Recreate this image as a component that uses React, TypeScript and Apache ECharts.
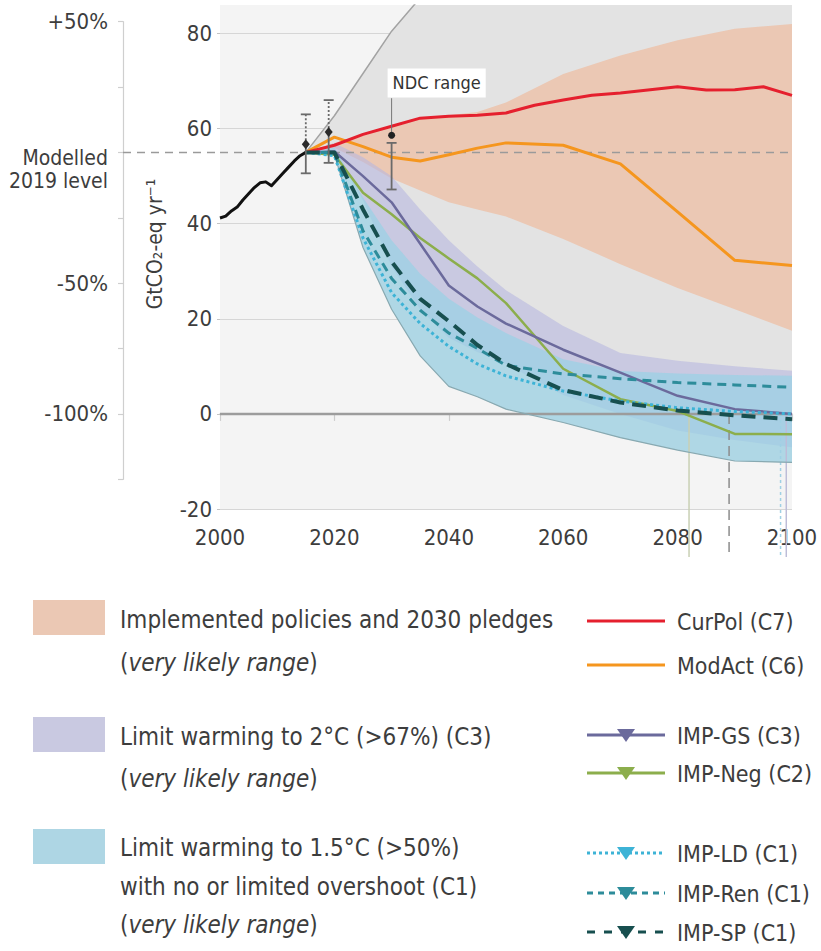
import React, { useEffect, useRef } from 'react';
import * as echarts from 'echarts';

const FONT = "'DejaVu Sans Condensed', 'DejaVu Sans', sans-serif";
const TEXT = '#3d3d3d';

// ---- axes ----
const X_MIN = 2000;
const X_MAX = 2100;
const X_INTERVAL = 20;
const Y_MIN = -20;
const Y_MAX = 86;
const Y_INTERVAL = 20;
const BASELINE_2019 = 55;
const PCT_MIN = -125;
const PCT_MAX = 50;
const PCT_INTERVAL = 25;
const pctTickLabels: Record<string, string> = { '50': '+50%', '-50': '-50%', '-100': '-100%' };

// ---- historical emissions ----
const histYears = [2000, 2001, 2002, 2003, 2004, 2005, 2006, 2007, 2008, 2009, 2010, 2011, 2012, 2013, 2014, 2015];
const histValues = [41.2, 41.6, 42.7, 43.5, 45.0, 46.3, 47.6, 48.6, 48.8, 48.0, 49.3, 50.6, 51.9, 53.2, 54.3, 55.0];

// ---- scenario ranges ----
const scenarioYears = [2015, 2020, 2025, 2030, 2035, 2040, 2045, 2050, 2060, 2070, 2080, 2090, 2100];
const allScenariosUpper = [55, 62.7, 71.6, 80.5, 87.5, 92, 95, 97, 100, 102, 104, 105, 106];
const c7Upper = [55, 57, 58.8, 60.5, 62, 62.8, 63.5, 65.5, 71.5, 75.4, 78.6, 81, 82];
const c7Lower = [55, 56, 53, 49.5, 47, 44.5, 43, 41.5, 36.8, 31.5, 26.5, 22, 17.5];
const c3Upper = [55, 57, 54, 50, 43, 36.5, 31, 26, 18.5, 12.8, 11.2, 10, 9.1];
const c3Lower = [55, 55, 45, 31, 22, 16, 13, 10.5, 4, 0, -3.5, -5.5, -7];
const c1Upper = [55, 56, 45.5, 36.5, 29.5, 24.2, 20.3, 17, 11.5, 9, 8.5, 8.2, 8];
const c1Lower = [55, 54.5, 35, 22, 12.2, 5.8, 3.6, 1, -1.8, -5, -7.6, -9.9, -10.2];

// ---- pathways ----
const curPolYears = [2015, 2020, 2025, 2030, 2035, 2040, 2045, 2050, 2055, 2060, 2065, 2070, 2080, 2085, 2090, 2095, 2100];
const curPolValues = [55, 56.5, 58.8, 60.5, 62.2, 62.6, 62.8, 63.3, 64.9, 66, 67, 67.5, 68.8, 68.1, 68.2, 68.8, 67];
const modActValues = [55, 58.2, 56.2, 54, 53.2, 54.5, 55.9, 57, 56.5, 52.6, 42.5, 32.3, 31.2];
const impGsValues = [55, 55.2, 50, 44.5, 35.8, 27, 22.6, 19, 13.5, 8.7, 3.8, 1, 0];
const impNegValues = [55, 54.5, 46.5, 42, 37, 32.7, 28.5, 23.3, 9.5, 3.1, 0.6, -4.2, -4.3];
const impLdValues = [55, 54.3, 37, 25.5, 19, 14.2, 10.5, 8, 4.8, 2.7, 1.3, 0.5, 0];
const impRenValues = [55, 55, 38.5, 28.5, 21.8, 17, 13.8, 10.2, 8.4, 7.4, 6.6, 6.1, 5.6];
const impSpValues = [55, 55, 43, 32, 24.2, 19.5, 14.5, 10.5, 5, 2.4, 0.7, -0.3, -1.1];

// ---- estimates with uncertainty ----
const estYears = [2015, 2019];
const estCentral = [56.7, 59.3];
const estLow = [50.6, 52.8];
const estHigh = [63, 66];

const ndcYear = 2030;
const ndcPoint = 58.6;
const ndcLow = 47.2;
const ndcHigh = 57.0;
const ndcStemTop = 66.4;
const ndcLabelValue = 69.6;
const ndcLabel = 'NDC range';

// ---- net-zero years ----
const netZeroYears = [2082, 2089, 2098, 2099];

// ---- legend texts ----
const VL = '({i|very likely range})';
const rangeLegend = [
  { color: '#ebc8b4', lines: ['Implemented policies and 2030 pledges', VL] },
  { color: '#c9c9e1', lines: ['Limit warming to 2°C (>67%) (C3)', VL] },
  { color: '#aed6e4', lines: ['Limit warming to 1.5°C (>50%)', 'with no or limited overshoot (C1)', VL] },
];
const pathwayLegend = [
  { label: 'CurPol (C7)', color: '#e5202e', dash: null, marker: false },
  { label: 'ModAct (C6)', color: '#f5961e', dash: null, marker: false },
  { label: 'IMP-GS (C3)', color: '#6b6a9c', dash: null, marker: true },
  { label: 'IMP-Neg (C2)', color: '#8cae4c', dash: null, marker: true },
  { label: 'IMP-LD (C1)', color: '#3db3d6', dash: [3, 3], marker: true },
  { label: 'IMP-Ren (C1)', color: '#2d8c9a', dash: [6, 5], marker: true },
  { label: 'IMP-SP (C1)', color: '#174f4f', dash: [8, 9], marker: true },
];

const pairs = (xs: number[], ys: number[]) => xs.map((x, i) => [x, ys[i]]);

function band(name: string, lower: number[], upper: number[], fill: string) {
  return {
    type: 'custom', name, silent: true, z: 2, clip: true,
    data: [[scenarioYears[0], lower[0]]],
    renderItem: (params: any, api: any) => {
      const top = scenarioYears.map((x, i) => api.coord([x, upper[i]]));
      const bottom = scenarioYears.map((x, i) => api.coord([x, lower[i]])).reverse();
      return { type: 'polygon', shape: { points: top.concat(bottom) }, style: { fill } };
    },
  };
}

function line(name: string, xs: number[], ys: number[], color: string, width: number, type: any = 'solid', z = 3) {
  return {
    type: 'line', name, data: pairs(xs, ys), symbol: 'none', silent: true, z,
    lineStyle: { color, width, type, cap: 'butt', join: 'round' },
  };
}

const netZeroStyles = [
  { stroke: '#c9d0b4', lineWidth: 1.5 },
  { stroke: '#8c8c8c', lineWidth: 1.5, lineDash: [10, 6] },
  { stroke: '#9fd0e4', lineWidth: 1.5, lineDash: [3, 3] },
  { stroke: '#bdbdd8', lineWidth: 1.5 },
];

function buildOption() {
  const pxPerUnit = (509 - 5) / (Y_MAX - Y_MIN);
  const yPx = (v: number) => 5 + (Y_MAX - v) * pxPerUnit;
  const pctTop = yPx(BASELINE_2019 * (1 + PCT_MAX / 100));
  const pctBottom = yPx(BASELINE_2019 * (1 + PCT_MIN / 100));

  return {
    animation: false,
    backgroundColor: '#ffffff',
    textStyle: { fontFamily: FONT },
    grid: [
      { left: 220, right: 29, top: 5, bottom: 951 - 509, show: true, backgroundColor: '#f4f4f4', borderWidth: 0 },
      { left: 123, width: 1, top: pctTop, height: pctBottom - pctTop, show: false },
    ],
    xAxis: [
      {
        type: 'value', gridIndex: 0, min: X_MIN, max: X_MAX, interval: X_INTERVAL,
        axisLine: { show: true, lineStyle: { color: '#d2d2d2', width: 1.5 } },
        axisTick: { show: true, length: 7, lineStyle: { color: '#cccccc', width: 1.2 } },
        axisLabel: { fontSize: 22, color: TEXT, margin: 17, fontFamily: FONT, formatter: (v: number) => String(v) },
        splitLine: { show: false },
      },
      { type: 'value', gridIndex: 1, min: 0, max: 1, show: false },
    ],
    yAxis: [
      {
        type: 'value', gridIndex: 0, min: Y_MIN, max: Y_MAX, interval: Y_INTERVAL,
        axisLine: { show: false },
        axisTick: { show: true, length: 3, lineStyle: { color: '#c4c4c4' } },
        axisLabel: {
          fontSize: 22, color: TEXT, margin: 8, fontFamily: FONT, showMaxLabel: false,
          formatter: (v: number) => (v % Y_INTERVAL === 0 ? String(v) : ''),
        },
        splitLine: { show: true, showMaxLine: false, lineStyle: { color: '#d6d6d6', width: 1 } },
      },
      {
        type: 'value', gridIndex: 1, min: PCT_MIN, max: PCT_MAX, interval: PCT_INTERVAL, position: 'left',
        axisLine: { show: true, lineStyle: { color: '#cfcfcf', width: 1.2 } },
        axisTick: { show: true, length: 5, lineStyle: { color: '#cfcfcf', width: 1.2 } },
        axisLabel: {
          fontSize: 22, color: TEXT, margin: 15, fontFamily: FONT,
          formatter: (v: number) => pctTickLabels[String(v)] || '',
        },
        splitLine: { show: false },
      },
    ],
    series: [
      band('all scenarios', c1Lower, allScenariosUpper, '#e3e3e3'),
      line('all-upper', scenarioYears, allScenariosUpper, '#a3a3a3', 1.5, 'solid', 2),
      line('zero', [X_MIN, X_MAX], [0, 0], '#9c9c9c', 2.5, 'solid', 2),
      band('C7 range', c7Lower, c7Upper, '#ebc8b4'),
      band('C3 range', c3Lower, c3Upper, 'rgba(183,183,224,0.6)'),
      band('C1 range', c1Lower, c1Upper, 'rgba(152,209,229,0.7)'),
      line('c1-lower-edge', scenarioYears, c1Lower, '#88a9b1', 1.2, 'solid', 2),
      line('2019 level', [X_MIN, X_MAX], [BASELINE_2019, BASELINE_2019], '#9a9a9a', 1.5, [8, 6], 2),
      {
        type: 'custom', name: 'net-zero', z: 2, silent: true, clip: false,
        data: netZeroYears.map((y) => [y, 0]),
        renderItem: (params: any, api: any) => {
          const x = api.value(0);
          const top = api.coord([x, api.value(1)]);
          const bottom = api.coord([x, Y_MIN]);
          return {
            type: 'line',
            shape: { x1: top[0], y1: top[1], x2: top[0], y2: bottom[1] + 48 },
            style: netZeroStyles[params.dataIndex],
          };
        },
      },
      line('historical', histYears, histValues, '#111111', 3),
      line('ModAct (C6)', scenarioYears, modActValues, '#f5961e', 3),
      line('CurPol (C7)', curPolYears, curPolValues, '#e5202e', 3),
      line('IMP-Neg (C2)', scenarioYears, impNegValues, '#8cae4c', 2.5),
      line('IMP-GS (C3)', scenarioYears, impGsValues, '#6b6a9c', 2.5),
      line('IMP-LD (C1)', scenarioYears, impLdValues, '#3db3d6', 3, [3, 3]),
      line('IMP-Ren (C1)', scenarioYears, impRenValues, '#2d8c9a', 3, [9, 6]),
      line('IMP-SP (C1)', scenarioYears, impSpValues, '#174f4f', 4, [14, 8]),
      {
        type: 'custom', name: 'estimates', z: 5, silent: true,
        data: estYears.map((y, i) => [y, estLow[i], estHigh[i], estCentral[i]]),
        renderItem: (params: any, api: any) => {
          const x = api.value(0);
          const lo = api.coord([x, api.value(1)]);
          const hi = api.coord([x, api.value(2)]);
          const c = api.coord([x, api.value(3)]);
          const stroke = '#6a6a6a';
          return {
            type: 'group',
            children: [
              { type: 'line', shape: { x1: c[0], y1: c[1], x2: hi[0], y2: hi[1] }, style: { stroke, lineWidth: 1.8, lineDash: [2, 2] } },
              { type: 'line', shape: { x1: c[0], y1: c[1], x2: lo[0], y2: lo[1] }, style: { stroke, lineWidth: 1.8 } },
              { type: 'line', shape: { x1: hi[0] - 5, y1: hi[1], x2: hi[0] + 5, y2: hi[1] }, style: { stroke, lineWidth: 1.8 } },
              { type: 'line', shape: { x1: lo[0] - 5, y1: lo[1], x2: lo[0] + 5, y2: lo[1] }, style: { stroke, lineWidth: 1.8 } },
              {
                type: 'polygon',
                shape: { points: [[c[0], c[1] - 5], [c[0] + 4, c[1]], [c[0], c[1] + 5], [c[0] - 4, c[1]]] },
                style: { fill: '#2b2b2b' },
              },
            ],
          };
        },
      },
      {
        type: 'custom', name: 'NDC', z: 5, silent: true,
        data: [[ndcYear, ndcLow, ndcHigh, ndcPoint, ndcStemTop, ndcLabelValue]],
        renderItem: (params: any, api: any) => {
          const x = api.value(0);
          const lo = api.coord([x, api.value(1)]);
          const hi = api.coord([x, api.value(2)]);
          const c = api.coord([x, api.value(3)]);
          const st = api.coord([x, api.value(4)]);
          const lb = api.coord([x, api.value(5)]);
          const stroke = '#6a6a6a';
          return {
            type: 'group',
            children: [
              { type: 'line', shape: { x1: lo[0], y1: lo[1], x2: hi[0], y2: hi[1] }, style: { stroke, lineWidth: 1.8 } },
              { type: 'line', shape: { x1: hi[0] - 5, y1: hi[1], x2: hi[0] + 5, y2: hi[1] }, style: { stroke, lineWidth: 1.8 } },
              { type: 'line', shape: { x1: lo[0] - 5, y1: lo[1], x2: lo[0] + 5, y2: lo[1] }, style: { stroke, lineWidth: 1.8 } },
              { type: 'line', shape: { x1: c[0], y1: c[1], x2: st[0], y2: st[1] }, style: { stroke: '#777', lineWidth: 1 } },
              { type: 'circle', shape: { cx: c[0], cy: c[1], r: 3.5 }, style: { fill: '#222' } },
              {
                type: 'text', x: lb[0] - 4, y: lb[1],
                style: {
                  text: ndcLabel, fill: '#333', fontSize: 18, fontFamily: FONT,
                  align: 'left', verticalAlign: 'middle', backgroundColor: '#ffffff', padding: [6, 5, 5, 5],
                },
              },
            ],
          };
        },
      },
    ],
  };
}

function buildGraphic(axisX: number, baseY: number, plotLeft: number) {
  const els: any[] = [];
  els.push({
    type: 'line', z: 3, silent: true,
    shape: { x1: axisX, y1: baseY, x2: plotLeft, y2: baseY },
    style: { stroke: '#9a9a9a', lineWidth: 1.5, lineDash: [8, 6] },
  });
  els.push({
    type: 'text', x: axisX - 15, y: baseY - 6, silent: true,
    style: {
      text: 'Modelled\n2019 level', fill: TEXT, fontSize: 21, fontFamily: FONT,
      align: 'right', verticalAlign: 'top', lineHeight: 23,
    },
  });
  els.push({
    type: 'text', x: 155, y: 244, rotation: Math.PI / 2, silent: true,
    style: { text: 'GtCO₂-eq yr⁻¹', fill: TEXT, fontSize: 21, fontFamily: FONT, align: 'center', verticalAlign: 'middle' },
  });

  const patchTops = [600, 717, 829];
  const lineCenters = [[620, 663], [737, 779], [848, 887, 925]];
  rangeLegend.forEach((item, k) => {
    els.push({ type: 'rect', shape: { x: 33, y: patchTops[k], width: 72, height: 35 }, style: { fill: item.color }, silent: true });
    item.lines.forEach((t, j) => {
      els.push({
        type: 'text', x: 120, y: lineCenters[k][j], silent: true,
        style: {
          text: t, fill: TEXT, fontSize: 24, fontFamily: FONT, align: 'left', verticalAlign: 'middle',
          rich: { i: { fontStyle: 'italic', fontSize: 24, fontFamily: FONT, fill: TEXT } },
        },
      });
    });
  });

  const rowY = [621, 665, 735, 773, 853, 893, 932];
  pathwayLegend.forEach((item, k) => {
    const y = rowY[k];
    const st: any = { stroke: item.color, lineWidth: 3 };
    if (item.dash) st.lineDash = item.dash;
    els.push({ type: 'line', shape: { x1: 587, y1: y, x2: 665, y2: y }, style: st, silent: true });
    if (item.marker) {
      els.push({
        type: 'polygon', silent: true,
        shape: { points: [[617, y - 6], [635, y - 6], [626, y + 7]] },
        style: { fill: item.color },
      });
    }
    els.push({
      type: 'text', x: 677, y: y + 1, silent: true,
      style: { text: item.label, fill: TEXT, fontSize: 23, fontFamily: FONT, align: 'left', verticalAlign: 'middle' },
    });
  });
  return els;
}

export default function App() {
  const ref = useRef<HTMLDivElement>(null);
  useEffect(() => {
    const chart = echarts.init(ref.current as HTMLDivElement, null, { renderer: 'svg' });
    chart.setOption(buildOption() as any);
    const [plotLeft, baseY] = chart.convertToPixel({ gridIndex: 0 }, [X_MIN, BASELINE_2019]) as number[];
    const [axisX] = chart.convertToPixel({ gridIndex: 1 }, [0, 0]) as number[];
    chart.setOption({ graphic: buildGraphic(axisX, baseY, plotLeft) } as any);
    return () => chart.dispose();
  }, []);
  return <div ref={ref} style={{ position: 'fixed', left: 0, top: 0, width: 821, height: 951 }} />;
}
